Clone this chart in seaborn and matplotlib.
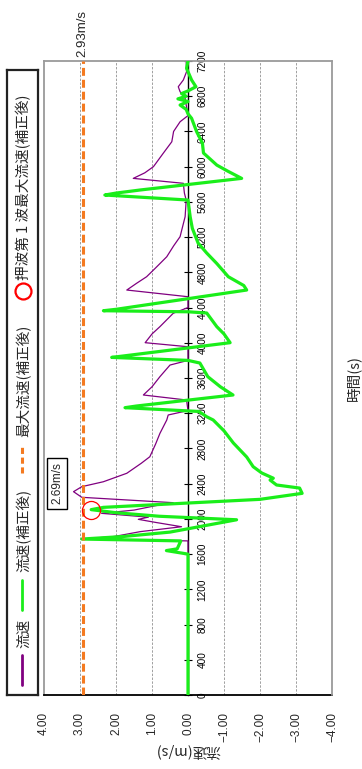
import numpy as np
import pandas as pd
import matplotlib
matplotlib.use("Agg")
import matplotlib.pyplot as plt
from matplotlib.lines import Line2D
import seaborn as sns

# ---------------- data ----------------
time_green = [0, 1600, 1640, 1660, 1750, 1771, 1800, 1850, 1990, 2030, 2070, 2105, 2131,
              2222, 2290, 2350, 2385, 2441, 2462, 2521, 2593, 2703, 2862, 3000, 3123, 3160,
              3220, 3263, 3282, 3407, 3500, 3615, 3770, 3800, 3834, 3850, 4001, 4100, 4183,
              4338, 4352, 4364, 4380, 4599, 4650, 4750, 4900, 5019, 5133, 5300, 5432, 5621,
              5678, 5700, 5735, 5867, 5950, 6018, 6155, 6268, 6397, 6549, 6600, 6650, 6700,
              6740, 6770, 6800, 6830, 6860, 6908, 6984, 7117, 7200]
vel_green = [0.0, 0.0, 0.6, 0.3, 0.2, 2.95, 1.8, 0.5, -1.35, 0.8, 2.0, 2.69, 2.35,
             -2.0, -3.17, -3.1, -2.46, -2.28, -2.37, -2.05, -1.81, -1.63, -1.26, -1.0, -0.70, -0.52,
             -0.3, 1.75, 1.43, -1.25, -0.9, -0.55, -0.33, 0.0, 2.12, 1.8, -1.17, -1.0, -0.80,
             -0.52, 0.0, 2.35, 2.0, -1.63, -1.55, -1.12, -0.8, -0.52, -0.28, -0.12, -0.06, 0.0,
             2.31, 2.0, 1.33, -1.49, -1.1, -0.80, -0.43, -0.40, -0.24, -0.10, 0.0, 0.05, 0.22,
             0.0, 0.28, 0.05, 0.18, 0.0, -0.22, -0.10, 0.04, 0.0]

time_raw = [0, 1750, 1771, 1800, 1855, 1911, 1960, 1995, 2020, 2063, 2100, 2150, 2184,
            2245, 2309, 2366, 2422, 2518, 2631, 2706, 2850, 2971, 3123, 3180, 3230, 3350,
            3407, 3500, 3615, 3747, 3800, 3955, 4001, 4100, 4183, 4335, 4400, 4523, 4599,
            4675, 4750, 4850, 4977, 5100, 5205, 5432, 5620, 5700, 5811, 5867, 5930, 6000,
            6151, 6283, 6400, 6510, 6580, 6700, 6776, 6851, 6908, 6984, 7078, 7200]
vel_raw = [0.0, 0.0, 2.95, 2.05, 1.33, 0.18, 0.9, 1.38, 1.1, 2.4, 1.5, 0.9, 0.41,
           2.95, 3.18, 2.95, 2.35, 1.70, 1.3, 1.06, 0.9, 0.78, 0.59, 0.55, 0.0, 0.04,
           1.24, 1.0, 0.78, 0.5, 0.0, 0.0, 1.19, 1.0, 0.78, 0.41, 0.0, 0.0, 1.70,
           1.43, 1.15, 0.9, 0.59, 0.4, 0.22, 0.08, 0.05, 0.1, 0.13, 1.52, 1.2, 0.96,
           0.69, 0.45, 0.4, 0.22, 0.0, 0.05, 0.08, 0.22, 0.27, 0.13, 0.04, 0.05]

max_v = 2.93
peak_v = 2.69
peak_t = 2105

vel_ticks = [4, 3, 2, 1, 0, -1, -2, -3, -4]
vel_labels = ["4.00", "3.00", "2.00", "1.00", "0.00", "\u22121.00", "\u22122.00", "\u22123.00", "\u22124.00"]
time_ticks = list(range(0, 7201, 400))

legend_labels = ["流速", "流速(補正後)", "最大流速(補正後)", "押波第 1 波最大流速(補正後)"]

# ---------------- style ----------------
sns.set_style("white")
plt.rcParams["font.family"] = ["Liberation Sans", "Noto Sans CJK JP", "DejaVu Sans"]
CJK = ["Noto Sans CJK JP", "Liberation Sans", "DejaVu Sans"]

PURPLE = "#800080"
GREEN = "#1aee1a"
ORANGE = "#f47a20"
GRID = "#a0a0a0"
FRAME = "#9a9a9a"

W, H = 362, 769
fig = plt.figure(figsize=(W / 100, H / 100), dpi=100)
fig.patch.set_facecolor("white")
ax = fig.add_axes([44 / W, 74 / H, 288 / W, 634 / H])

df_raw = pd.DataFrame({"t": time_raw, "v": vel_raw})
df_green = pd.DataFrame({"t": time_green, "v": vel_green})

for v in [3, 2, 1, -1, -2, -3]:
    ax.axvline(v, color=GRID, lw=0.7, ls=(0, (2.5, 1.5)), zorder=0.5)

sns.lineplot(data=df_raw, x="v", y="t", orient="y", sort=False, estimator=None,
             color=PURPLE, lw=0.9, ax=ax, zorder=2)
sns.lineplot(data=df_green, x="v", y="t", orient="y", sort=False, estimator=None,
             color=GREEN, lw=2.3, ax=ax, zorder=3)

ax.axvline(max_v, color=ORANGE, lw=2.2, ls=(0, (2.6, 1.3)), zorder=4)
ax.plot([peak_v], [peak_t], "o", mfc="none", mec="red", ms=13, mew=0.9, zorder=5)

ax.set_xlim(4, -4)
ax.set_ylim(0, 7200)

# spines
ax.yaxis.tick_right()
ax.spines["right"].set_position(("data", 0))
ax.spines["right"].set_color("black")
ax.spines["right"].set_linewidth(1.0)
ax.spines["right"].set_zorder(1)
ax.spines["left"].set_color(FRAME)
ax.spines["left"].set_linewidth(1.3)
ax.spines["top"].set_color(FRAME)
ax.spines["top"].set_linewidth(1.3)
ax.spines["bottom"].set_color("black")
ax.spines["bottom"].set_linewidth(1.3)
ax.axvline(-4, color=FRAME, lw=1.3, clip_on=False, zorder=6)

ax.set_yticks(time_ticks)
ax.set_yticklabels([str(t) for t in time_ticks], rotation=90, va="center")
ax.tick_params(axis="y", direction="inout", length=6, width=0.8, pad=4, labelsize=7.2,
               right=True, left=False, colors="black")
ax.set_xticks(vel_ticks)
ax.set_xticklabels(vel_labels, rotation=90)
ax.tick_params(axis="x", length=0, pad=12, labelsize=8.5)

ax.set_xlabel("")
ax.text(0.5, (695 - 752) / 634, "流速(m/s)", transform=ax.transAxes, rotation=180,
        rotation_mode="anchor", ha="center", va="center_baseline", fontsize=10.5, family=CJK)
ax.set_ylabel("時間(s)", rotation=90, fontsize=10.5, family=CJK, va="center")
ax.yaxis.set_label_coords(1.076, 0.5)

ax.annotate(f"{max_v:.2f}m/s", xy=(max_v, 1.0), xycoords=("data", "axes fraction"),
            xytext=(0, 3), textcoords="offset points", rotation=90,
            ha="center", va="bottom", fontsize=9.5, annotation_clip=False)

ax.text(3.64, 2402, f"{peak_v:.2f}m/s", rotation=90, ha="center", va="center", fontsize=8.5,
        bbox=dict(boxstyle="square,pad=0.35", fc="white", ec="black", lw=1.0), zorder=7)

# ---------------- legend (rotated) ----------------
lax = fig.add_axes([7 / W, 74 / H, 31 / W, 625 / H])
lax.set_xlim(0, 1)
lax.set_ylim(0, 1)
lax.set_xticks([])
lax.set_yticks([])
for s in lax.spines.values():
    s.set_color("#222222")
    s.set_linewidth(1.6)


def ay(y):
    return (695 - y) / 625


lx = 0.47
tx = 0.55
lax.add_line(Line2D([lx, lx], [ay(685), ay(655)], color=PURPLE, lw=2.0))
lax.text(tx, ay(648), legend_labels[0], rotation=90, ha="center", va="bottom", fontsize=10.5, family=CJK)
lax.add_line(Line2D([lx, lx], [ay(610), ay(580)], color=GREEN, lw=2.0))
lax.text(tx, ay(572), legend_labels[1], rotation=90, ha="center", va="bottom", fontsize=10.5, family=CJK)
lax.add_line(Line2D([lx, lx], [ay(473), ay(445)], color=ORANGE, lw=2.2, ls=(0, (2.0, 1.2))))
lax.text(tx, ay(437), legend_labels[2], rotation=90, ha="center", va="bottom", fontsize=10.5, family=CJK)
lax.plot([0.53], [ay(290.5)], "o", mfc="none", mec="red", ms=11.5, mew=1.6)
lax.text(tx, ay(280), legend_labels[3], rotation=90, ha="center", va="bottom", fontsize=10.5, family=CJK)

fig.savefig("out.png", dpi=100, facecolor="white")
